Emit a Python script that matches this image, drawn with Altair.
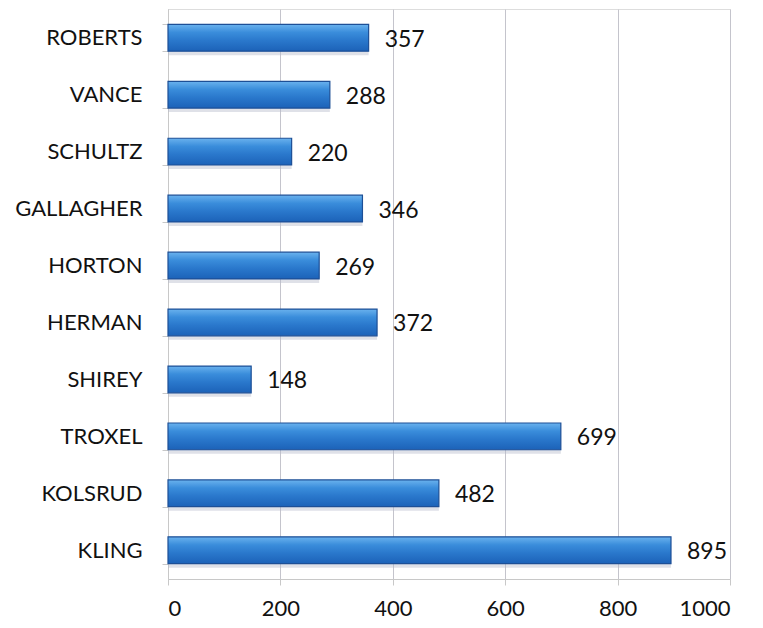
import altair as alt
import pandas as pd

names = ["ROBERTS", "VANCE", "SCHULTZ", "GALLAGHER", "HORTON", "HERMAN",
         "SHIREY", "TROXEL", "KOLSRUD", "KLING"]
values = [357, 288, 220, 346, 269, 372, 148, 699, 482, 895]

df = pd.DataFrame({"name": names, "value": values})

FONT = "Lato"

y_enc = alt.Y("name:N", sort=names, title=None,
              scale=alt.Scale(paddingInner=0.53, paddingOuter=0.27),
              axis=alt.Axis(labelFontSize=22, labelFont=FONT, labelColor="#111111",
                            labelPadding=20, domainColor="#c8c8c8", tickColor="#c8c8c8",
                            tickSize=6, tickBand="extent", grid=False))
x_enc = alt.X("value:Q", title=None,
              scale=alt.Scale(domain=[0, 1000]),
              axis=alt.Axis(values=[0, 200, 400, 600, 800, 1000], format="d",
                            labelFontSize=22, labelFont=FONT, labelColor="#111111",
                            labelPadding=13, domainColor="#c8c8c8", tickColor="#c8c8c8",
                            tickSize=6, gridColor="#c4c4cc", gridWidth=1))

grad = alt.Gradient(gradient="linear", x1=0, y1=0, x2=0, y2=1,
                    stops=[alt.GradientStop(color="#6ab2ee", offset=0),
                           alt.GradientStop(color="#3a8ddb", offset=0.3),
                           alt.GradientStop(color="#2a78cc", offset=0.6),
                           alt.GradientStop(color="#1c62b8", offset=1)])

base = alt.Chart(df)

shadow = base.mark_bar(color="#b8bccc", opacity=0.45, yOffset=4).encode(x=x_enc, y=y_enc)

bars = base.mark_bar(color=grad, stroke="#1d4f96", strokeWidth=1.2).encode(x=x_enc, y=y_enc)

labels = base.mark_text(align="left", baseline="middle", dx=16, dy=2,
                        fontSize=23, font=FONT, color="#111111").encode(
    x="value:Q", y=alt.Y("name:N", sort=names), text="value:Q")

chart = alt.layer(shadow, bars, labels).properties(
    width=562, height=570,
    autosize=alt.AutoSizeParams(type="none"),
    padding={"left": 160, "top": 1, "right": 25, "bottom": 47},
).configure_view(stroke=None).configure(background="white")

chart.save("out.html", embed_options={"renderer": "svg", "actions": False})
